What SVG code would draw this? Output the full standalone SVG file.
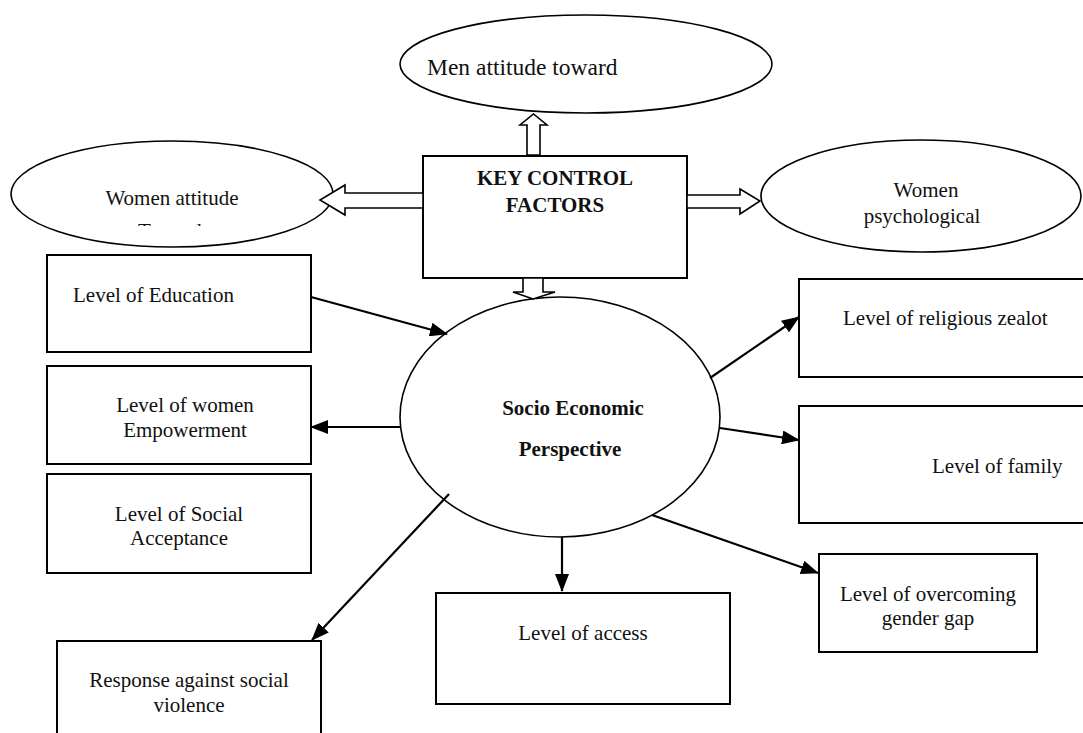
<svg xmlns="http://www.w3.org/2000/svg" width="1083" height="733" viewBox="0 0 1083 733">
<style>
.box{fill:#fff;stroke:#000;stroke-width:2}
.ell{fill:#fff;stroke:#000;stroke-width:1.6}
.blk{fill:#fff;stroke:#000;stroke-width:1.6;stroke-linejoin:miter}
.t{font-family:"Liberation Serif","Times New Roman",serif;font-size:21px;fill:#111}
.c{text-anchor:middle}
.b{font-weight:bold}
.con{stroke:#000;stroke-width:2.2;fill:none}
</style>
<defs>
<marker id="ah" markerUnits="userSpaceOnUse" markerWidth="18" markerHeight="14" refX="17" refY="7" orient="auto">
<path d="M0,0 L18,7 L0,14 Z" fill="#000"/>
</marker>
<clipPath id="clipT"><rect x="0" y="0" width="400" height="226"/></clipPath>
</defs>

<g id="node-men">
<ellipse class="ell" cx="586" cy="64" rx="186" ry="49"/>
<text class="t" x="427" y="75" style="font-size:23.5px">Men attitude toward</text>
</g>

<g id="node-women-attitude">
<ellipse class="ell" cx="172" cy="194" rx="161" ry="53"/>
<text class="t c" x="172" y="205">Women attitude</text>
<text class="t" x="138" y="238" clip-path="url(#clipT)">Toward</text>
</g>

<g id="node-women-psych">
<ellipse class="ell" cx="921" cy="196" rx="160" ry="56"/>
<text class="t c" x="926" y="197">Women</text>
<text class="t c" x="922" y="223">psychological</text>
</g>

<g id="node-education">
<rect class="box" x="47" y="255" width="264" height="97"/>
<text class="t" x="73" y="302">Level of Education</text>
</g>

<g id="node-empowerment">
<rect class="box" x="47" y="366" width="264" height="98"/>
<text class="t c" x="185" y="412">Level of women</text>
<text class="t c" x="185" y="437">Empowerment</text>
</g>

<g id="node-social">
<rect class="box" x="47" y="474" width="264" height="99"/>
<text class="t c" x="179" y="521">Level of Social</text>
<text class="t c" x="179" y="545">Acceptance</text>
</g>

<g id="node-response">
<rect class="box" x="57" y="641" width="264" height="110"/>
<text class="t c" x="189" y="687">Response against social</text>
<text class="t c" x="189" y="712">violence</text>
</g>

<g id="node-access">
<rect class="box" x="436" y="593" width="294" height="111"/>
<text class="t c" x="583" y="640">Level of access</text>
</g>

<g id="node-gender-gap">
<rect class="box" x="819" y="554" width="218" height="98"/>
<text class="t c" x="928" y="601">Level of overcoming</text>
<text class="t c" x="928" y="625">gender gap</text>
</g>

<g id="node-religious">
<rect class="box" x="799" y="279" width="300" height="98"/>
<text class="t" x="843" y="325">Level of religious zealot</text>
</g>

<g id="node-family">
<rect class="box" x="799" y="406" width="300" height="117"/>
<text class="t" x="932" y="473">Level of family</text>
</g>

<g id="node-key">
<rect class="box" x="423" y="156" width="264" height="122"/>
<text class="t c b" x="555" y="185">KEY CONTROL</text>
<text class="t c b" x="555" y="212">FACTORS</text>
</g>

<g id="node-socio">
<ellipse class="ell" cx="560" cy="417" rx="160" ry="120"/>
<text class="t c b" x="573" y="415">Socio Economic</text>
<text class="t c b" x="570" y="456">Perspective</text>
</g>

<g id="connectors">
<polygon class="blk" points="527,155 527,125 520,125 533.5,114 547,125 540,125 540,155"/>
<polygon class="blk" points="523,278 523,292 513,292 533,299 555,292 543,292 543,278"/>
<polygon class="blk" points="423,193 345,193 345,185 320,200 345,215 345,208 423,208"/>
<polygon class="blk" points="687,195 740,195 740,189 760,201 740,214 740,208 687,208"/>
<line class="con" x1="311" y1="297" x2="447" y2="334" marker-end="url(#ah)"/>
<line class="con" x1="400" y1="427" x2="311" y2="427" marker-end="url(#ah)"/>
<line class="con" x1="449" y1="494" x2="312" y2="640" marker-end="url(#ah)"/>
<line class="con" x1="562" y1="537" x2="562" y2="591" marker-end="url(#ah)"/>
<line class="con" x1="652" y1="515" x2="818" y2="573" marker-end="url(#ah)"/>
<line class="con" x1="710" y1="378" x2="799" y2="317" marker-end="url(#ah)"/>
<line class="con" x1="720" y1="428" x2="799" y2="440" marker-end="url(#ah)"/>
</g>
</svg>
